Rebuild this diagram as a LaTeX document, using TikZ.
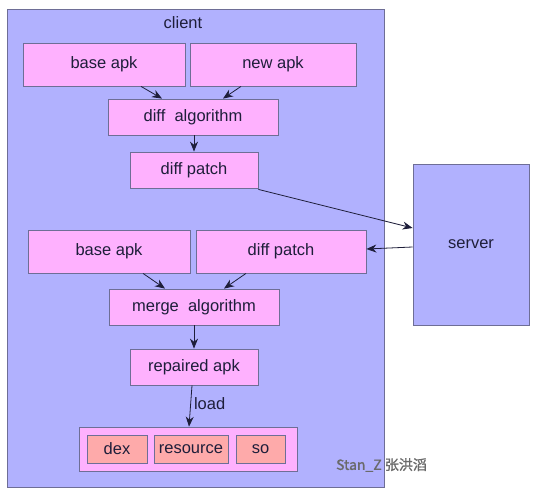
\documentclass[tikz,border=0pt]{standalone}
\usepackage{fontspec}
\setmainfont{Liberation Sans}
\newfontfamily\cjk[FakeBold=1.2]{Noto Sans CJK SC}
\usetikzlibrary{arrows.meta}
\definecolor{clientfill}{HTML}{B1B1FE}
\definecolor{pinkfill}{HTML}{FEB1FE}
\definecolor{salmonfill}{HTML}{FEAAAA}
\definecolor{edgecol}{HTML}{6E6E96}
\definecolor{txtcol}{HTML}{1E1E3A}
\definecolor{wmgray}{HTML}{6A6A6A}
\tikzset{
  boxbase/.style={draw=edgecol, line width=0.8pt, inner sep=0pt, text=txtcol,
    font=\fontsize{16.5}{19}\selectfont},
  pinkbox/.style={boxbase, fill=pinkfill},
  salbox/.style={boxbase, fill=salmonfill},
  bluebox/.style={boxbase, fill=clientfill},
  conn/.style={draw=txtcol, line width=0.8pt, -{Stealth[length=10pt,width=8pt]}},
}
\begin{document}
\begin{tikzpicture}[x=1pt,y=-1pt]
\useasboundingbox (0,0) rectangle (538,497);
\fill[white] (0,0) rectangle (538,497);
% client container
\node[bluebox, minimum width=377pt, minimum height=478pt] (client) at (195.5,248) {};
\node[text=txtcol, font=\fontsize{16.5}{19}\selectfont, inner sep=0pt] (clientlbl) at (183,23) {client};
% server
\node[bluebox, minimum width=116pt, minimum height=161pt] (server) at (471,244.5) {server};
% top section
\node[pinkbox, minimum width=162pt, minimum height=43pt] (baseA) at (104,64.5) {base apk};
\node[pinkbox, minimum width=166pt, minimum height=43pt] (newA) at (273,64.5) {new apk};
\node[pinkbox, minimum width=170pt, minimum height=36pt] (diffalg) at (193,117) {diff\ \ algorithm};
\node[pinkbox, minimum width=128pt, minimum height=36pt] (patchA) at (194,170) {diff patch};
% bottom section
\node[pinkbox, minimum width=162pt, minimum height=43pt] (baseB) at (109,251.5) {base apk};
\node[pinkbox, minimum width=170pt, minimum height=43pt] (patchB) at (281,251.5) {diff patch};
\node[pinkbox, minimum width=170pt, minimum height=36pt] (merge) at (194,307) {merge\ \ algorithm};
\node[pinkbox, minimum width=128pt, minimum height=36pt] (repaired) at (194,367) {repaired apk};
% loaded container
\node[pinkbox, minimum width=218pt, minimum height=44pt] (loaded) at (188,449) {};
\node[salbox, minimum width=60pt, minimum height=28pt] (dex) at (117,449) {dex};
\node[salbox, minimum width=74pt, minimum height=28pt] (res) at (191,449) {resource};
\node[salbox, minimum width=49pt, minimum height=28pt] (so) at (260.5,449) {so};
% connectors
\draw[conn] ([xshift=37pt]baseA.south) -- ([xshift=-31pt]diffalg.north);
\draw[conn] ([xshift=-32pt]newA.south) -- ([xshift=30pt]diffalg.north);
\draw[conn] ([xshift=1pt]diffalg.south) -- (patchA.north);
\draw[conn] ([yshift=-1pt]patchA.south east) -- ([yshift=16.5pt]server.west);
\draw[conn] ([yshift=-2.5pt]server.west) -- ([yshift=2.5pt]patchB.east);
\draw[conn] ([xshift=34pt]baseB.south) -- ([xshift=-29pt]merge.north);
\draw[conn] ([xshift=-35pt]patchB.south) -- ([xshift=30pt]merge.north);
\draw[conn] (merge.south) -- (repaired.north);
\draw[conn] ([xshift=-2pt]repaired.south) -- node[right, pos=0.45, inner sep=3pt, text=txtcol, font=\fontsize{16.5}{19}\selectfont] (loadlbl) {load} ([xshift=1pt]loaded.north);
% watermark
\node[text=wmgray, font=\cjk\fontsize{14}{16}\selectfont, inner sep=0pt] (wm) at (381.5,465) {Stan\_Z 张洪滔};
\end{tikzpicture}
\end{document}
